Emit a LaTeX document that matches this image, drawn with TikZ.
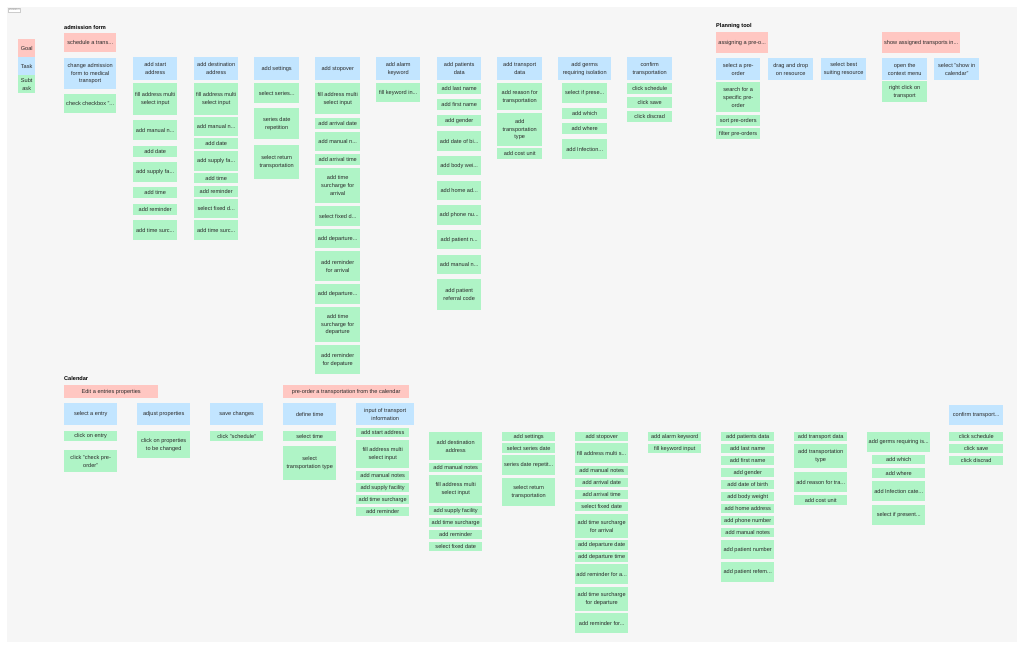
\documentclass[tikz,border=0pt]{standalone}
\usepackage{fontspec}
\setmainfont{Liberation Sans}
\usepackage{tikz}

\definecolor{goalred}{HTML}{FFC7C2}
\definecolor{taskblue}{HTML}{C2E5FF}
\definecolor{subgreen}{HTML}{AFF4C6}
\definecolor{canvas}{HTML}{F6F6F6}
\definecolor{inktext}{HTML}{2B2B2B}

\tikzset{
  note/.style={anchor=north west, inner xsep=1pt, inner ysep=0pt, align=center,
    text=inktext, font=\fontsize{5.6}{7.8}\selectfont},
  goal/.style={note, fill=goalred},
  task/.style={note, fill=taskblue},
  sub/.style={note, fill=subgreen},
  boxw/.style={minimum width=#1pt},
  boxh/.style={minimum height=#1pt},
  title/.style={anchor=west, inner sep=0pt, text=black, font=\fontsize{5.6}{6}\selectfont\bfseries},
}

\begin{document}
\begin{tikzpicture}[x=1pt, y=-1pt]
  \useasboundingbox (0,0) rectangle (1024,649);
  \fill[canvas] (7,7) rectangle (1017,642);
  \node[draw=gray!40, fill=white, anchor=north west, inner sep=0.8pt,
    font=\fontsize{2.6}{3}\selectfont, text=gray] (version) at (8,8) {Version 1};

  % --- legend ---
  \node[goal, boxw=17, boxh=18] (lgoal) at (18,39) {Goal};
  \node[task, boxw=17, boxh=18] (ltask) at (18,57) {Task};
  \node[sub, boxw=17, boxh=18] (lsub) at (18,75) {Subt\\ask};

  % --- admission form ---
  \node[title] (aftitle) at (64,27) {admission form};
  \node[goal, boxw=52, boxh=19] (afgoal) at (64,33) {schedule a trans...};
  \node[task, boxw=52, boxh=31] (aftask) at (64,58) {change admission\\form to medical\\transport};
  \node[sub, boxw=52, boxh=19] (afs1) at (64,94) {check checkbox "...};

  \begin{scope}[every node/.append style={boxw=44}]
    \node[task, boxh=23] (sa0) at (133,57) {add start\\address};
    \node[sub, boxh=32] (sa1) at (133,83) {fill address multi\\select input};
    \node[sub, boxh=20] (sa2) at (133,120) {add manual n...};
    \node[sub, boxh=11] (sa3) at (133,146) {add date};
    \node[sub, boxh=20] (sa4) at (133,162) {add supply fa...};
    \node[sub, boxh=11] (sa5) at (133,187) {add time};
    \node[sub, boxh=11] (sa6) at (133,204) {add reminder};
    \node[sub, boxh=20] (sa7) at (133,220) {add time surc...};

    \node[task, boxh=23] (da0) at (194,57) {add destination\\address};
    \node[sub, boxh=32] (da1) at (194,83) {fill address multi\\select input};
    \node[sub, boxh=19] (da2) at (194,117) {add manual n...};
    \node[sub, boxh=11] (da3) at (194,138) {add date};
    \node[sub, boxh=20] (da4) at (194,151) {add supply fa...};
    \node[sub, boxh=10] (da5) at (194,173) {add time};
    \node[sub, boxh=11] (da6) at (194,186) {add reminder};
    \node[sub, boxh=19] (da7) at (194,199) {select fixed d...};
    \node[sub, boxh=20] (da8) at (194,220) {add time surc...};
  \end{scope}

  \begin{scope}[every node/.append style={boxw=45}]
    \node[task, boxh=23] (st0) at (254,57) {add settings};
    \node[sub, boxh=20] (st1) at (254,83) {select series...};
    \node[sub, boxh=31] (st2) at (254,108) {series date\\repetition};
    \node[sub, boxh=34] (st3) at (254,145) {select return\\transportation};

    \node[task, boxh=23] (so0) at (315,57) {add stopover};
    \node[sub, boxh=31] (so1) at (315,83) {fill address multi\\select input};
    \node[sub, boxh=11] (so2) at (315,118) {add arrival date};
    \node[sub, boxh=19] (so3) at (315,132) {add manual n...};
    \node[sub, boxh=11] (so4) at (315,154) {add arrival time};
    \node[sub, boxh=35] (so5) at (315,168) {add time\\surcharge for\\arrival};
    \node[sub, boxh=20] (so6) at (315,206) {select fixed d...};
    \node[sub, boxh=19] (so7) at (315,229) {add departure...};
    \node[sub, boxh=30] (so8) at (315,251) {add reminder\\for arrival};
    \node[sub, boxh=20] (so9) at (315,284) {add departure...};
    \node[sub, boxh=35] (so10) at (315,307) {add time\\surcharge for\\departure};
    \node[sub, boxh=29] (so11) at (315,345) {add reminder\\for depature};
  \end{scope}

  \begin{scope}[every node/.append style={boxw=44}]
    \node[task, boxh=23] (al0) at (376,57) {add alarm\\keyword};
    \node[sub, boxh=19] (al1) at (376,83) {fill keyword in...};

    \node[task, boxh=23] (pd0) at (437,57) {add patients\\data};
    \node[sub, boxh=11] (pd1) at (437,83) {add last name};
    \node[sub, boxh=11] (pd2) at (437,99) {add first name};
    \node[sub, boxh=11] (pd3) at (437,115) {add gender};
    \node[sub, boxh=20] (pd4) at (437,131) {add date of bi...};
    \node[sub, boxh=19] (pd5) at (437,156) {add body wei...};
    \node[sub, boxh=19] (pd6) at (437,181) {add home ad...};
    \node[sub, boxh=20] (pd7) at (437,205) {add phone nu...};
    \node[sub, boxh=19] (pd8) at (437,230) {add patient n...};
    \node[sub, boxh=19] (pd9) at (437,255) {add manual n...};
    \node[sub, boxh=31] (pd10) at (437,279) {add patient\\referral code};
  \end{scope}

  \begin{scope}[every node/.append style={boxw=45}]
    \node[task, boxh=23] (td0) at (497,57) {add transport\\data};
    \node[sub, boxh=27] (td1) at (497,83) {add reason for\\transportation};
    \node[sub, boxh=33] (td2) at (497,113) {add\\transportation\\type};
    \node[sub, boxh=11] (td3) at (497,148) {add cost unit};

    \node[task, boxw=53, boxh=23] (gi0) at (558,57) {add germs\\requiring isolation};
    \node[sub, boxh=20] (gi1) at (562,83) {select if prese...};
    \node[sub, boxh=11] (gi2) at (562,108) {add which};
    \node[sub, boxh=11] (gi3) at (562,123) {add where};
    \node[sub, boxh=20] (gi4) at (562,139) {add Infection...};

    \node[task, boxh=23] (ct0) at (627,57) {confirm\\transportation};
    \node[sub, boxh=11] (ct1) at (627,83) {click schedule};
    \node[sub, boxh=11] (ct2) at (627,97) {click save};
    \node[sub, boxh=11] (ct3) at (627,111) {click discrad};
  \end{scope}

  % --- planning tool ---
  \node[title] (pttitle) at (716,26) {Planning tool};
  \node[goal, boxw=52, boxh=21] (ptgoal1) at (716,32) {assigning a pre-o...};
  \begin{scope}[every node/.append style={boxw=44}]
    \node[task, boxh=22] (pt1) at (716,58) {select a pre-\\order};
    \node[sub, boxh=30] (pt1a) at (716,82) {search for a\\specific pre-\\order};
    \node[sub, boxh=11] (pt1b) at (716,115) {sort pre-orders};
    \node[sub, boxh=11] (pt1c) at (716,128) {filter pre-orders};
    \node[task, boxw=45, boxh=22] (pt2) at (768,58) {drag and drop\\on resource};
    \node[task, boxw=45, boxh=22] (pt3) at (821,58) {select best\\suiting resource};
  \end{scope}
  \node[goal, boxw=78, boxh=21] (ptgoal2) at (882,32) {show assigned transports in...};
  \node[task, boxw=45, boxh=22] (pt4) at (882,58) {open the\\context menu};
  \node[sub, boxw=45, boxh=21] (pt4a) at (882,81) {right click on\\transport};
  \node[task, boxw=45, boxh=22] (pt5) at (934,58) {select "show in\\calendar"};

  % --- calendar ---
  \node[title] (caltitle) at (64,378) {Calendar};
  \node[goal, boxw=94, boxh=13] (cegoal) at (64,385) {Edit a entries properties};
  \begin{scope}[every node/.append style={boxw=53}]
    \node[task, boxh=22] (ce1) at (64,403) {select a entry};
    \node[sub, boxh=10] (ce1a) at (64,431) {click on entry};
    \node[sub, boxh=22] (ce1b) at (64,450) {click "check pre-\\order"};
    \node[task, boxh=22] (ce2) at (137,403) {adjust properties};
    \node[sub, boxh=27] (ce2a) at (137,431) {click on properties\\to be changed};
    \node[task, boxh=22] (ce3) at (210,403) {save changes};
    \node[sub, boxh=10] (ce3a) at (210,431) {click "schedule"};
  \end{scope}

  \node[goal, boxw=126, boxh=13] (pogoal) at (283,385) {pre-order a transportation from the calendar};
  \begin{scope}[every node/.append style={boxw=53}]
    \node[task, boxh=22] (po1) at (283,403) {define time};
    \node[sub, boxh=10] (po1a) at (283,431) {select time};
    \node[sub, boxh=34] (po1b) at (283,446) {select\\transportation type};
    \node[task, boxw=58, boxh=22] (po2) at (356,403) {input of transport\\information};
    \node[sub, boxh=9] (ip1) at (356,428) {add start address};
    \node[sub, boxh=28] (ip2) at (356,440) {fill address multi\\select input};
    \node[sub, boxh=9] (ip3) at (356,471) {add manual notes};
    \node[sub, boxh=9] (ip4) at (356,483) {add supply facility};
    \node[sub, boxh=9] (ip5) at (356,495) {add time surcharge};
    \node[sub, boxh=9] (ip6) at (356,507) {add reminder};

    \node[sub, boxh=28] (cd1) at (429,432) {add destination\\address};
    \node[sub, boxh=9] (cd2) at (429,463) {add manual notes};
    \node[sub, boxh=28] (cd3) at (429,475) {fill address multi\\select input};
    \node[sub, boxh=9] (cd4) at (429,506) {add supply facility};
    \node[sub, boxh=9] (cd5) at (429,518) {add time surcharge};
    \node[sub, boxh=9] (cd6) at (429,530) {add reminder};
    \node[sub, boxh=9] (cd7) at (429,542) {select fixed date};

    \node[sub, boxh=9] (cs1) at (502,432) {add settings};
    \node[sub, boxh=10] (cs2) at (502,443) {select series date};
    \node[sub, boxh=20] (cs3) at (502,455) {series date repetit...};
    \node[sub, boxh=28] (cs4) at (502,478) {select return\\transportation};

    \node[sub, boxh=9] (cso1) at (575,432) {add stopover};
    \node[sub, boxh=20] (cso2) at (575,443) {fill address multi s...};
    \node[sub, boxh=9] (cso3) at (575,466) {add manual notes};
    \node[sub, boxh=9] (cso4) at (575,478) {add arrival date};
    \node[sub, boxh=9] (cso5) at (575,490) {add arrival time};
    \node[sub, boxh=9] (cso6) at (575,502) {select fixed date};
    \node[sub, boxh=24] (cso7) at (575,514) {add time surcharge\\for arrival};
    \node[sub, boxh=10] (cso8) at (575,540) {add departure date};
    \node[sub, boxh=10] (cso9) at (575,552) {add departure time};
    \node[sub, boxh=20] (cso10) at (575,564) {add reminder for a...};
    \node[sub, boxh=24] (cso11) at (575,587) {add time surcharge\\for departure};
    \node[sub, boxh=20] (cso12) at (575,613) {add reminder for...};

    \node[sub, boxh=9] (ca1) at (648,432) {add alarm keyword};
    \node[sub, boxh=9] (ca2) at (648,444) {fill keyword input};

    \node[sub, boxh=9] (cp1) at (721,432) {add patients data};
    \node[sub, boxh=9] (cp2) at (721,444) {add last name};
    \node[sub, boxh=9] (cp3) at (721,456) {add first name};
    \node[sub, boxh=9] (cp4) at (721,468) {add gender};
    \node[sub, boxh=9] (cp5) at (721,480) {add date of birth};
    \node[sub, boxh=9] (cp6) at (721,492) {add body weight};
    \node[sub, boxh=9] (cp7) at (721,504) {add home address};
    \node[sub, boxh=9] (cp8) at (721,516) {add phone number};
    \node[sub, boxh=9] (cp9) at (721,528) {add manual notes};
    \node[sub, boxh=19] (cp10) at (721,540) {add patient number};
    \node[sub, boxh=20] (cp11) at (721,562) {add patient refem...};

    \node[sub, boxh=9] (ctd1) at (794,432) {add transport data};
    \node[sub, boxh=24] (ctd2) at (794,444) {add transportation\\type};
    \node[sub, boxh=20] (ctd3) at (794,472) {add reason for tra...};
    \node[sub, boxh=10] (ctd4) at (794,495) {add cost unit};

    \node[sub, boxw=63, boxh=20] (cg1) at (867,432) {add germs requiring is...};
    \node[sub, boxh=9] (cg2) at (872,455) {add which};
    \node[sub, boxh=10] (cg3) at (872,468) {add where};
    \node[sub, boxh=20] (cg4) at (872,481) {add Infection cate...};
    \node[sub, boxh=20] (cg5) at (872,505) {select if present...};

    \node[task, boxw=54, boxh=20] (cc0) at (949,405) {confirm transport...};
    \node[sub, boxw=54, boxh=9] (cc1) at (949,432) {click schedule};
    \node[sub, boxw=54, boxh=9] (cc2) at (949,444) {click save};
    \node[sub, boxw=54, boxh=9] (cc3) at (949,456) {click discrad};
  \end{scope}
\end{tikzpicture}
\end{document}
